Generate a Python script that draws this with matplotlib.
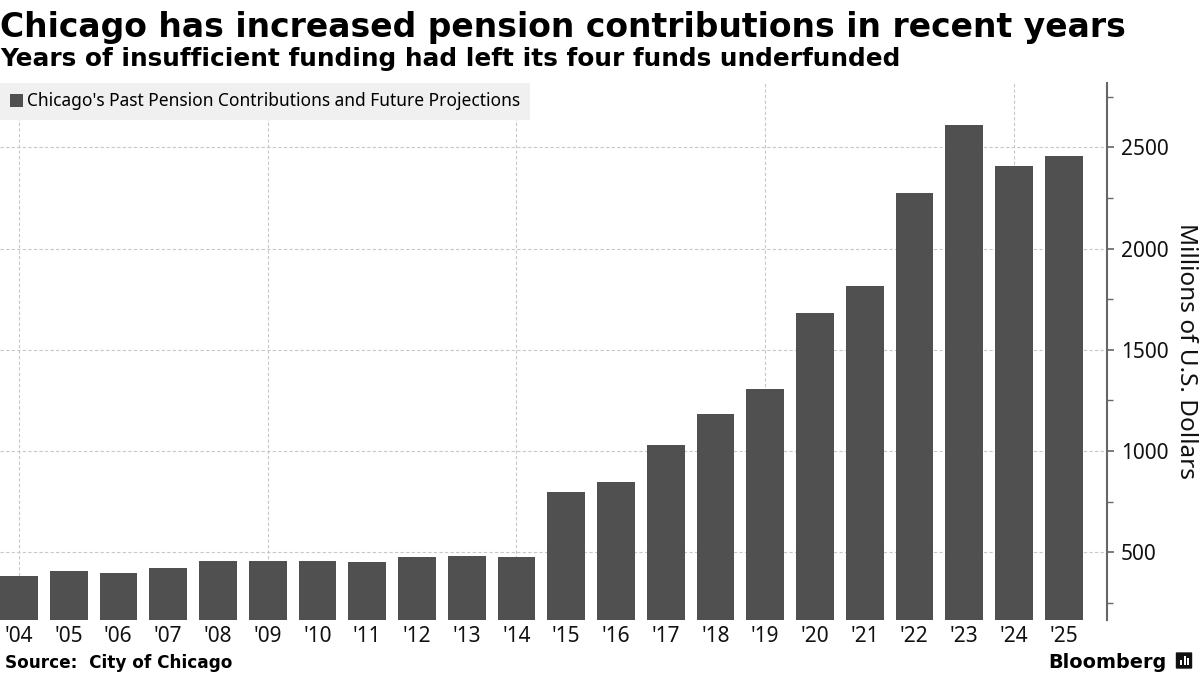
import matplotlib
matplotlib.use("Agg")
import matplotlib.pyplot as plt
from matplotlib.ticker import MultipleLocator
from matplotlib.patches import FancyBboxPatch, Rectangle
import numpy as np

# Data (millions of U.S. dollars)
years = ["'04", "'05", "'06", "'07", "'08", "'09", "'10", "'11", "'12", "'13", "'14",
         "'15", "'16", "'17", "'18", "'19", "'20", "'21", "'22", "'23", "'24", "'25"]
contributions = [383, 408, 398, 423, 457, 457, 457, 452, 477, 482, 477,
                 796, 847, 1030, 1185, 1306, 1681, 1814, 2273, 2609, 2408, 2459]
series_name = "Chicago's Past Pension Contributions and Future Projections"
title = "Chicago has increased pension contributions in recent years"
subtitle = "Years of insufficient funding had left its four funds underfunded"
source = "Source:  City of Chicago"

W, H = 1200, 675
fig = plt.figure(figsize=(12, 6.75), dpi=100)
ax = fig.add_axes([0, 1 - 620 / H, 1107 / W, (620 - 82.7) / H])

x = np.arange(len(years))
ax.bar(x, contributions, width=0.76, color='#505050', zorder=2, label=series_name)

ax.set_xlim(-0.38, 21.87)
ax.set_ylim(166, 2819)

# right-hand axis only
ax.yaxis.tick_right()
ax.yaxis.set_label_position('right')
for s in ['left', 'top', 'bottom']:
    ax.spines[s].set_visible(False)
ax.spines['right'].set_color('#666666')
ax.spines['right'].set_linewidth(1.5)

ax.yaxis.set_major_locator(MultipleLocator(500))
ax.yaxis.set_minor_locator(MultipleLocator(250))
ax.tick_params(axis='y', which='major', length=5, width=1.2, color='#666666',
               labelsize=15, pad=5)
ax.tick_params(axis='y', which='minor', length=4, width=1.0, color='#666666')
ax.set_xticks(x)
ax.set_xticklabels(years)
ax.tick_params(axis='x', length=0, labelsize=15, pad=4)
for lab in ax.get_xticklabels() + ax.get_yticklabels():
    lab.set_fontfamily('Noto Sans')
    lab.set_color('#111111')

ax.set_ylabel("Millions of U.S. Dollars", rotation=270, fontsize=17.5,
              family='Noto Sans', labelpad=21, color='#111111')

# dashed grid behind the bars
grid_style = dict(linestyle=(0, (3, 2)), color='#c8c8c8', linewidth=0.8, zorder=0)
ax.yaxis.grid(True, which='major', **grid_style)
for xv in x[::5]:
    ax.axvline(xv, **grid_style)
ax.set_axisbelow(True)

leg = ax.legend(loc='upper left', bbox_to_anchor=(0, 1), borderaxespad=0.0,
                frameon=True, fancybox=False, handlelength=0.75, handleheight=0.75,
                handletextpad=0.25, borderpad=0.55,
                prop={'family': 'Noto Sans', 'size': 12.5})
leg.get_frame().set_facecolor('#f0f0f0')
leg.get_frame().set_edgecolor('none')
leg.get_frame().set_alpha(1)


def fit_text(t, target_px):
    # scale font size so the rendered width matches the reference width
    r = fig.canvas.get_renderer()
    w = t.get_window_extent(renderer=r).width
    t.set_fontsize(t.get_fontsize() * target_px / w)


t1 = fig.text(0.0, 1 - 37 / H, title, fontsize=25, fontweight='bold',
              family='DejaVu Sans', va='baseline', ha='left')
t2 = fig.text(0.0, 1 - 66 / H, subtitle, fontsize=18, fontweight='bold',
              family='DejaVu Sans', va='baseline', ha='left')
t3 = fig.text(5 / W, 1 - 668 / H, source, fontsize=12, fontweight='bold',
              family='DejaVu Sans', va='baseline', ha='left')
t4 = fig.text(1166 / W, 1 - 668 / H, "Bloomberg", fontsize=16, fontweight='bold',
              family='DejaVu Sans', va='baseline', ha='right')
fig.canvas.draw()
fit_text(t1, 1128)
fit_text(t2, 900)
fit_text(t3, 227)
fit_text(t4, 118)

# small Bloomberg chart icon
icon = FancyBboxPatch((1177 / W, 1 - 668 / H), 14 / W, 15 / H,
                      boxstyle="round,pad=0.001", transform=fig.transFigure,
                      facecolor='#111111', edgecolor='none')
fig.add_artist(icon)
for i, hgt in enumerate([5, 9, 7]):
    fig.add_artist(Rectangle(((1180 + i * 3.5) / W, 1 - 665 / H), 2 / W, hgt / H,
                             transform=fig.transFigure, facecolor='white', edgecolor='none'))

fig.savefig("out.png", dpi=100)
